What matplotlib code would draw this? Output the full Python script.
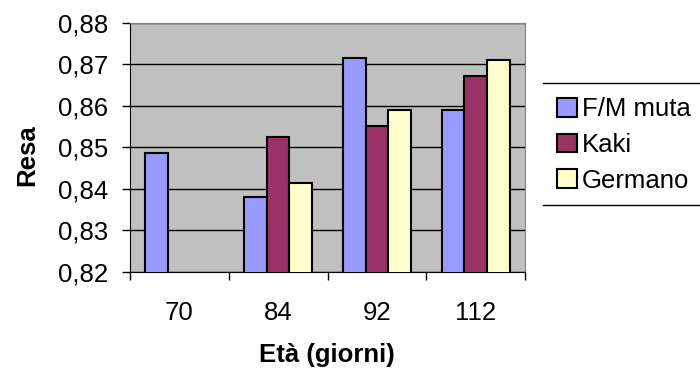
import numpy as np
import matplotlib
matplotlib.use("Agg")
import matplotlib.pyplot as plt
from matplotlib.lines import Line2D
from matplotlib.ticker import FuncFormatter

plt.rcParams['font.family'] = ['Liberation Sans', 'DejaVu Sans']

eta = ['70', '84', '92', '112']
fm_muta = [0.8487, 0.8381, 0.8716, 0.8591]
kaki = [np.nan, 0.8526, 0.8552, 0.8672]
germano = [np.nan, 0.8415, 0.8591, 0.8710]

series = [('F/M muta', fm_muta, '#9999FF'),
          ('Kaki', kaki, '#993366'),
          ('Germano', germano, '#FFFFCC')]

fig = plt.figure(figsize=(7, 3.79), dpi=100)
ax = fig.add_axes([130 / 700, 1 - 272 / 379, 395 / 700, (272 - 22.7) / 379])
ax.set_facecolor('#C0C0C0')

x = np.arange(len(eta))
w = 0.23
for i, (name, vals, col) in enumerate(series):
    ax.bar(x + (i - 1) * w, vals, w, color=col, edgecolor='black',
           linewidth=1.5, label=name, zorder=3)

ax.set_xlim(-0.5, 3.5)
ax.set_ylim(0.82, 0.88)
ax.set_yticks(np.arange(0.82, 0.8801, 0.01))
ax.yaxis.set_major_formatter(FuncFormatter(lambda v, p: ('%.2f' % v).replace('.', ',')))
ax.yaxis.grid(True, color='black', linewidth=1, zorder=1)
ax.set_axisbelow(True)

ax.set_xticks(x)
ax.set_xticklabels(eta)
ax.set_xticks(np.arange(-0.5, 3.6, 1), minor=True)
ax.tick_params(axis='x', which='major', length=0, pad=21, labelsize=18.5)
ax.tick_params(axis='x', which='minor', length=6, width=1, direction='out')
ax.tick_params(axis='y', length=6, width=1, direction='out', pad=10, labelsize=18.5)

for s in ['top', 'right']:
    ax.spines[s].set_color('#808080')
for s in ['left', 'bottom']:
    ax.spines[s].set_color('black')

fig.text(27 / 700, 1 - 155 / 379, 'Resa', rotation=90, ha='center', va='center',
         fontsize=18.5, fontweight='bold')
fig.text(327 / 700, 1 - 355 / 379, 'Età (giorni)', ha='center', va='center',
         fontsize=18.5, fontweight='bold')

leg = fig.legend(loc='center left', bbox_to_anchor=(547 / 700, 1 - 145 / 379),
                 frameon=False, fontsize=18.5, handlelength=0.75, handleheight=0.75,
                 handletextpad=0.2, labelspacing=0.45, borderaxespad=0)

fig.add_artist(Line2D([543 / 700, 1.0], [1 - 83 / 379] * 2, color='black', lw=1))
fig.add_artist(Line2D([543 / 700, 1.0], [1 - 205 / 379] * 2, color='black', lw=1))

fig.savefig('out.png', dpi=100)
